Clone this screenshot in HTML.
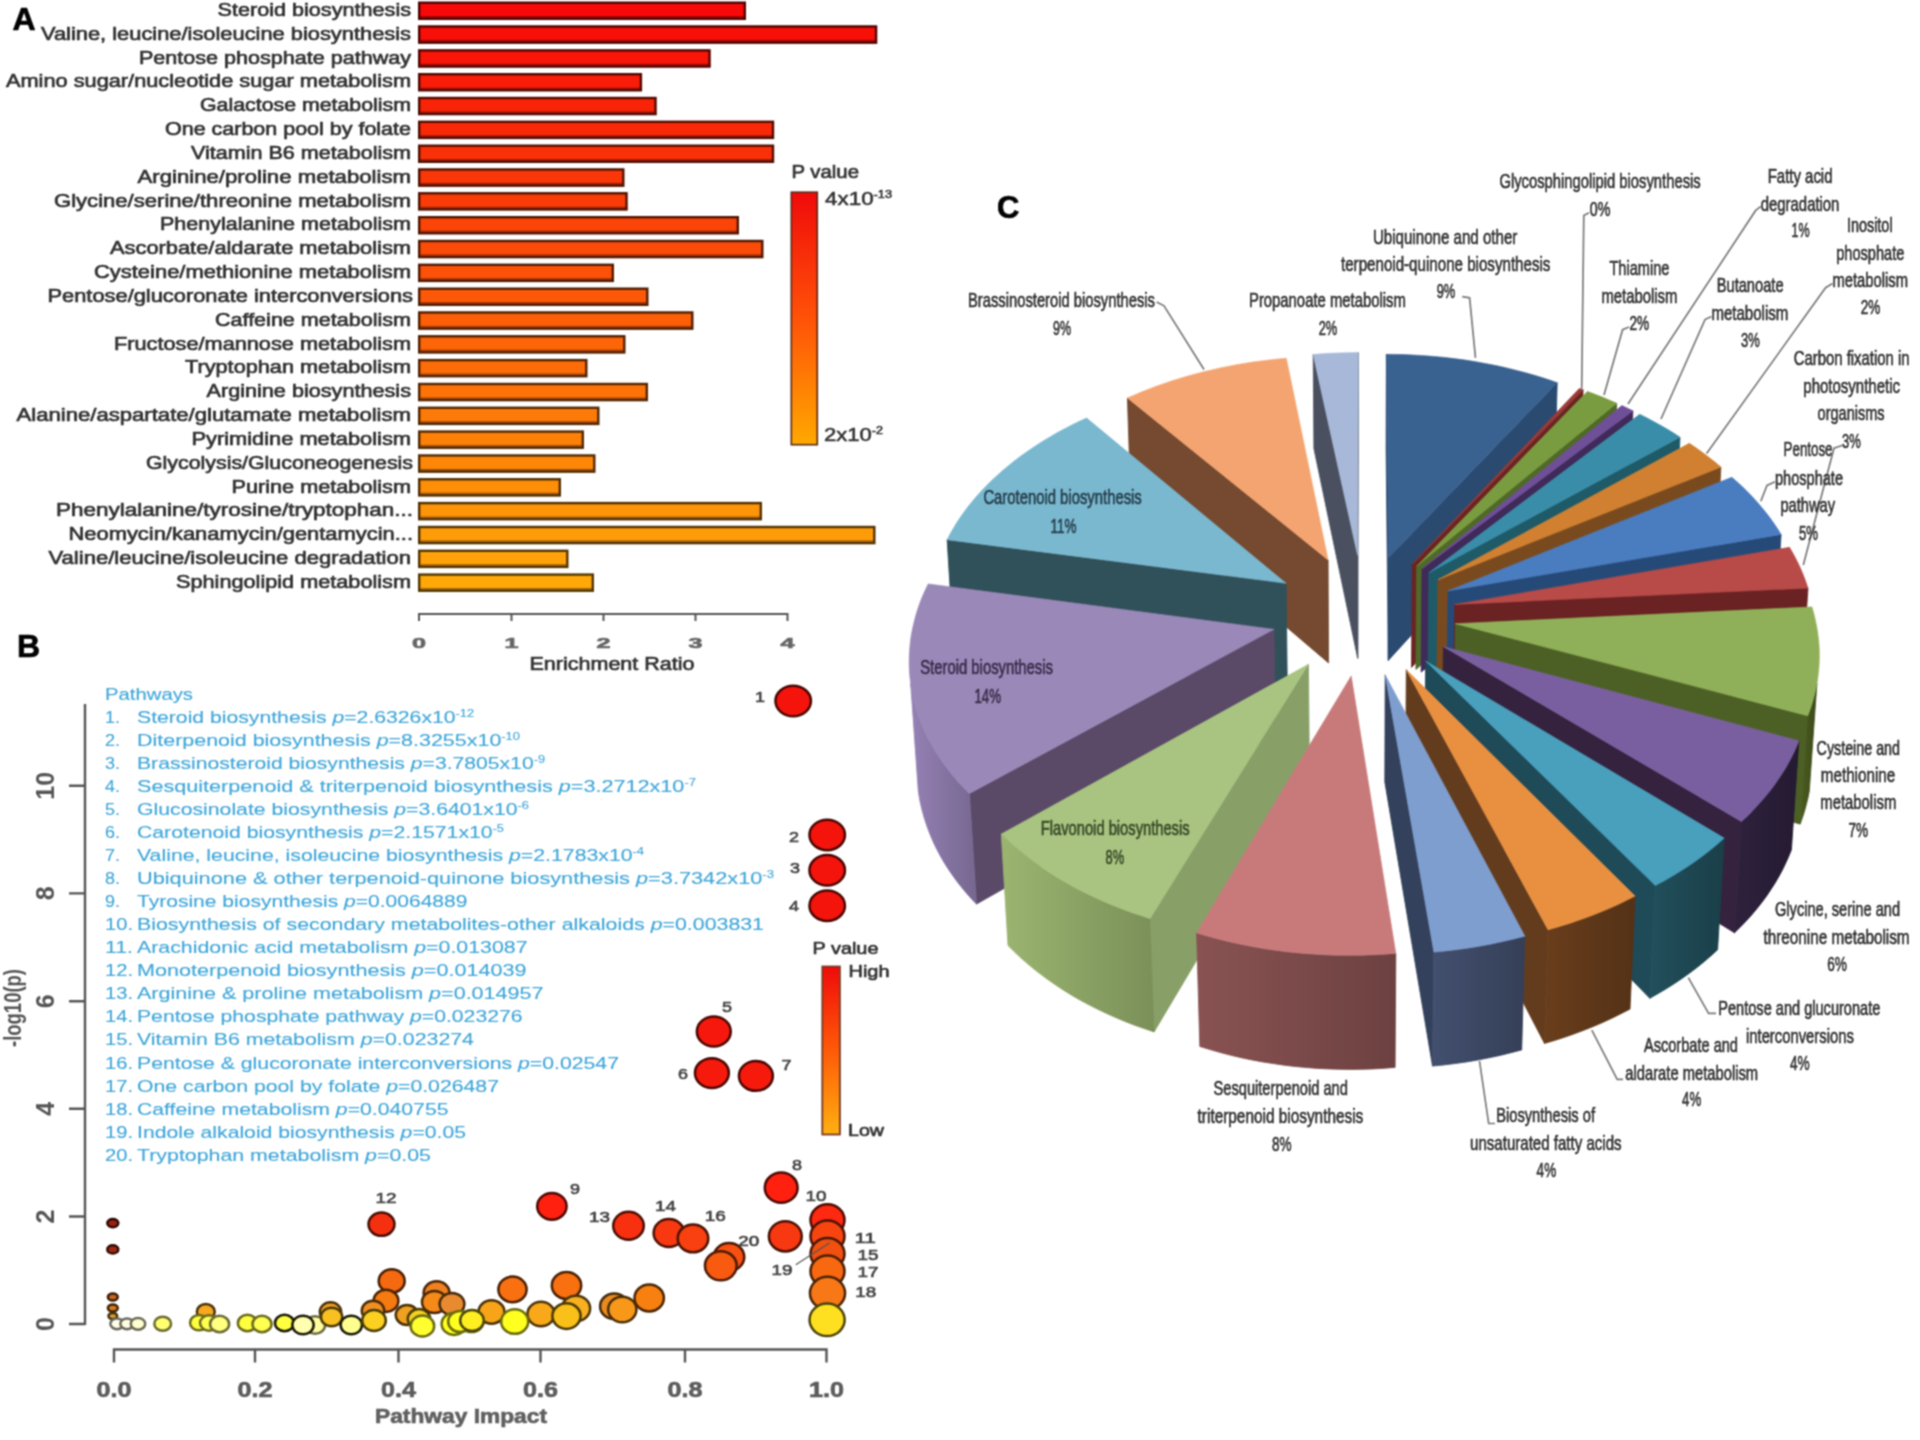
<!DOCTYPE html>
<html lang="en"><head><meta charset="utf-8"><title>Pathway enrichment figure</title>
<style>html,body{margin:0;padding:0;background:#fff}svg{display:block}text{font-family:"Liberation Sans",Arial,sans-serif}</style>
</head><body>
<svg width="1920" height="1440" viewBox="0 0 1920 1440">
<defs><filter id="soft" filterUnits="userSpaceOnUse" x="0" y="0" width="1920" height="1440" color-interpolation-filters="sRGB"><feConvolveMatrix order="3" kernelMatrix="1 2 1 2 4 2 1 2 1" divisor="16" edgeMode="duplicate" preserveAlpha="false"/></filter></defs>
<rect width="1920" height="1440" fill="#ffffff"/>
<g filter="url(#soft)">
<rect width="1920" height="1440" fill="#ffffff"/>
<rect x="418.5" y="2.0" width="327.0" height="17.5" fill="#f80808"/>
<rect x="418.5" y="16.0" width="327.0" height="3.5" fill="#a80505"/>
<rect x="419.2" y="2.7" width="325.6" height="16.1" fill="none" stroke="#510202" stroke-width="2.4"/>
<text x="411.0" y="15.9" font-size="17.6" fill="#333333" stroke="#333333" stroke-width="0.65" text-anchor="end" textLength="193.5" lengthAdjust="spacingAndGlyphs" >Steroid biosynthesis</text>
<rect x="418.5" y="25.8" width="458.3" height="17.5" fill="#f80f08"/>
<rect x="418.5" y="39.8" width="458.3" height="3.5" fill="#a80a05"/>
<rect x="419.2" y="26.5" width="456.9" height="16.1" fill="none" stroke="#510402" stroke-width="2.4"/>
<text x="411.0" y="39.7" font-size="17.6" fill="#333333" stroke="#333333" stroke-width="0.65" text-anchor="end" textLength="370.0" lengthAdjust="spacingAndGlyphs" >Valine, leucine/isoleucine biosynthesis</text>
<rect x="418.5" y="49.7" width="291.7" height="17.5" fill="#f91508"/>
<rect x="418.5" y="63.7" width="291.7" height="3.5" fill="#a90e05"/>
<rect x="419.2" y="50.4" width="290.3" height="16.1" fill="none" stroke="#520602" stroke-width="2.4"/>
<text x="411.0" y="63.6" font-size="17.6" fill="#333333" stroke="#333333" stroke-width="0.65" text-anchor="end" textLength="272.0" lengthAdjust="spacingAndGlyphs" >Pentose phosphate pathway</text>
<rect x="418.5" y="73.5" width="223.1" height="17.5" fill="#f91c08"/>
<rect x="418.5" y="87.5" width="223.1" height="3.5" fill="#a91305"/>
<rect x="419.2" y="74.2" width="221.7" height="16.1" fill="none" stroke="#520902" stroke-width="2.4"/>
<text x="411.0" y="87.4" font-size="17.6" fill="#333333" stroke="#333333" stroke-width="0.65" text-anchor="end" textLength="405.0" lengthAdjust="spacingAndGlyphs" >Amino sugar/nucleotide sugar metabolism</text>
<rect x="418.5" y="97.3" width="237.7" height="17.5" fill="#f92308"/>
<rect x="418.5" y="111.3" width="237.7" height="3.5" fill="#a91705"/>
<rect x="419.2" y="98.0" width="236.3" height="16.1" fill="none" stroke="#520b02" stroke-width="2.4"/>
<text x="411.0" y="111.2" font-size="17.6" fill="#333333" stroke="#333333" stroke-width="0.65" text-anchor="end" textLength="211.0" lengthAdjust="spacingAndGlyphs" >Galactose metabolism</text>
<rect x="418.5" y="121.1" width="355.2" height="17.5" fill="#f92908"/>
<rect x="418.5" y="135.1" width="355.2" height="3.5" fill="#a91b05"/>
<rect x="419.2" y="121.8" width="353.8" height="16.1" fill="none" stroke="#520d02" stroke-width="2.4"/>
<text x="411.0" y="135.0" font-size="17.6" fill="#333333" stroke="#333333" stroke-width="0.65" text-anchor="end" textLength="246.0" lengthAdjust="spacingAndGlyphs" >One carbon pool by folate</text>
<rect x="418.5" y="145.0" width="355.2" height="17.5" fill="#fa3008"/>
<rect x="418.5" y="159.0" width="355.2" height="3.5" fill="#aa2005"/>
<rect x="419.2" y="145.7" width="353.8" height="16.1" fill="none" stroke="#520f02" stroke-width="2.4"/>
<text x="411.0" y="158.9" font-size="17.6" fill="#333333" stroke="#333333" stroke-width="0.65" text-anchor="end" textLength="220.0" lengthAdjust="spacingAndGlyphs" >Vitamin B6 metabolism</text>
<rect x="418.5" y="168.8" width="205.5" height="17.5" fill="#fa3708"/>
<rect x="418.5" y="182.8" width="205.5" height="3.5" fill="#aa2505"/>
<rect x="419.2" y="169.5" width="204.1" height="16.1" fill="none" stroke="#521202" stroke-width="2.4"/>
<text x="411.0" y="182.7" font-size="17.6" fill="#333333" stroke="#333333" stroke-width="0.65" text-anchor="end" textLength="273.5" lengthAdjust="spacingAndGlyphs" >Arginine/proline metabolism</text>
<rect x="418.5" y="192.6" width="208.7" height="17.5" fill="#fa3d08"/>
<rect x="418.5" y="206.6" width="208.7" height="3.5" fill="#aa2905"/>
<rect x="419.2" y="193.3" width="207.3" height="16.1" fill="none" stroke="#521402" stroke-width="2.4"/>
<text x="411.0" y="206.5" font-size="17.6" fill="#333333" stroke="#333333" stroke-width="0.65" text-anchor="end" textLength="357.0" lengthAdjust="spacingAndGlyphs" >Glycine/serine/threonine metabolism</text>
<rect x="418.5" y="216.5" width="320.0" height="17.5" fill="#fb4408"/>
<rect x="418.5" y="230.5" width="320.0" height="3.5" fill="#aa2e05"/>
<rect x="419.2" y="217.2" width="318.6" height="16.1" fill="none" stroke="#521602" stroke-width="2.4"/>
<text x="411.0" y="230.4" font-size="17.6" fill="#333333" stroke="#333333" stroke-width="0.65" text-anchor="end" textLength="251.0" lengthAdjust="spacingAndGlyphs" >Phenylalanine metabolism</text>
<rect x="418.5" y="240.3" width="344.5" height="17.5" fill="#fb4b08"/>
<rect x="418.5" y="254.3" width="344.5" height="3.5" fill="#aa3305"/>
<rect x="419.2" y="241.0" width="343.1" height="16.1" fill="none" stroke="#521802" stroke-width="2.4"/>
<text x="411.0" y="254.2" font-size="17.6" fill="#333333" stroke="#333333" stroke-width="0.65" text-anchor="end" textLength="301.0" lengthAdjust="spacingAndGlyphs" >Ascorbate/aldarate metabolism</text>
<rect x="418.5" y="264.1" width="195.0" height="17.5" fill="#fb5108"/>
<rect x="418.5" y="278.1" width="195.0" height="3.5" fill="#aa3705"/>
<rect x="419.2" y="264.8" width="193.6" height="16.1" fill="none" stroke="#521a02" stroke-width="2.4"/>
<text x="411.0" y="278.0" font-size="17.6" fill="#333333" stroke="#333333" stroke-width="0.65" text-anchor="end" textLength="317.0" lengthAdjust="spacingAndGlyphs" >Cysteine/methionine metabolism</text>
<rect x="418.5" y="288.0" width="229.5" height="17.5" fill="#fc5808"/>
<rect x="418.5" y="302.0" width="229.5" height="3.5" fill="#ab3b05"/>
<rect x="419.2" y="288.7" width="228.1" height="16.1" fill="none" stroke="#531d02" stroke-width="2.4"/>
<text x="413.0" y="301.9" font-size="17.6" fill="#333333" stroke="#333333" stroke-width="0.65" text-anchor="end" textLength="365.5" lengthAdjust="spacingAndGlyphs" >Pentose/glucoronate interconversions</text>
<rect x="418.5" y="311.8" width="274.5" height="17.5" fill="#fc5f08"/>
<rect x="418.5" y="325.8" width="274.5" height="3.5" fill="#ab4005"/>
<rect x="419.2" y="312.5" width="273.1" height="16.1" fill="none" stroke="#531f02" stroke-width="2.4"/>
<text x="411.0" y="325.7" font-size="17.6" fill="#333333" stroke="#333333" stroke-width="0.65" text-anchor="end" textLength="196.0" lengthAdjust="spacingAndGlyphs" >Caffeine metabolism</text>
<rect x="418.5" y="335.6" width="206.5" height="17.5" fill="#fc6508"/>
<rect x="418.5" y="349.6" width="206.5" height="3.5" fill="#ab4405"/>
<rect x="419.2" y="336.3" width="205.1" height="16.1" fill="none" stroke="#532102" stroke-width="2.4"/>
<text x="411.0" y="349.5" font-size="17.6" fill="#333333" stroke="#333333" stroke-width="0.65" text-anchor="end" textLength="297.0" lengthAdjust="spacingAndGlyphs" >Fructose/mannose metabolism</text>
<rect x="418.5" y="359.4" width="168.5" height="17.5" fill="#fc6c08"/>
<rect x="418.5" y="373.4" width="168.5" height="3.5" fill="#ab4905"/>
<rect x="419.2" y="360.1" width="167.1" height="16.1" fill="none" stroke="#532302" stroke-width="2.4"/>
<text x="411.0" y="373.3" font-size="17.6" fill="#333333" stroke="#333333" stroke-width="0.65" text-anchor="end" textLength="226.0" lengthAdjust="spacingAndGlyphs" >Tryptophan metabolism</text>
<rect x="418.5" y="383.3" width="229.0" height="17.5" fill="#fd7308"/>
<rect x="418.5" y="397.3" width="229.0" height="3.5" fill="#ac4e05"/>
<rect x="419.2" y="384.0" width="227.6" height="16.1" fill="none" stroke="#532502" stroke-width="2.4"/>
<text x="411.0" y="397.2" font-size="17.6" fill="#333333" stroke="#333333" stroke-width="0.65" text-anchor="end" textLength="204.5" lengthAdjust="spacingAndGlyphs" >Arginine biosynthesis</text>
<rect x="418.5" y="407.1" width="180.5" height="17.5" fill="#fd7908"/>
<rect x="418.5" y="421.1" width="180.5" height="3.5" fill="#ac5205"/>
<rect x="419.2" y="407.8" width="179.1" height="16.1" fill="none" stroke="#532702" stroke-width="2.4"/>
<text x="411.0" y="421.0" font-size="17.6" fill="#333333" stroke="#333333" stroke-width="0.65" text-anchor="end" textLength="394.5" lengthAdjust="spacingAndGlyphs" >Alanine/aspartate/glutamate metabolism</text>
<rect x="418.5" y="430.9" width="165.0" height="17.5" fill="#fd8008"/>
<rect x="418.5" y="444.9" width="165.0" height="3.5" fill="#ac5705"/>
<rect x="419.2" y="431.6" width="163.6" height="16.1" fill="none" stroke="#532a02" stroke-width="2.4"/>
<text x="411.0" y="444.8" font-size="17.6" fill="#333333" stroke="#333333" stroke-width="0.65" text-anchor="end" textLength="219.5" lengthAdjust="spacingAndGlyphs" >Pyrimidine metabolism</text>
<rect x="418.5" y="454.8" width="176.5" height="17.5" fill="#fe8708"/>
<rect x="418.5" y="468.8" width="176.5" height="3.5" fill="#ac5b05"/>
<rect x="419.2" y="455.5" width="175.1" height="16.1" fill="none" stroke="#532c02" stroke-width="2.4"/>
<text x="413.0" y="468.7" font-size="17.6" fill="#333333" stroke="#333333" stroke-width="0.65" text-anchor="end" textLength="267.0" lengthAdjust="spacingAndGlyphs" >Glycolysis/Gluconeogenesis</text>
<rect x="418.5" y="478.6" width="142.0" height="17.5" fill="#fe8d08"/>
<rect x="418.5" y="492.6" width="142.0" height="3.5" fill="#ac5f05"/>
<rect x="419.2" y="479.3" width="140.6" height="16.1" fill="none" stroke="#532e02" stroke-width="2.4"/>
<text x="411.0" y="492.5" font-size="17.6" fill="#333333" stroke="#333333" stroke-width="0.65" text-anchor="end" textLength="179.5" lengthAdjust="spacingAndGlyphs" >Purine metabolism</text>
<rect x="418.5" y="502.4" width="343.0" height="17.5" fill="#fe9408"/>
<rect x="418.5" y="516.4" width="343.0" height="3.5" fill="#ac6405"/>
<rect x="419.2" y="503.1" width="341.6" height="16.1" fill="none" stroke="#533002" stroke-width="2.4"/>
<text x="413.0" y="516.3" font-size="17.6" fill="#333333" stroke="#333333" stroke-width="0.65" text-anchor="end" textLength="357.0" lengthAdjust="spacingAndGlyphs" >Phenylalanine/tyrosine/tryptophan...</text>
<rect x="418.5" y="526.3" width="456.5" height="17.5" fill="#fe9b08"/>
<rect x="418.5" y="540.3" width="456.5" height="3.5" fill="#ac6905"/>
<rect x="419.2" y="527.0" width="455.1" height="16.1" fill="none" stroke="#533302" stroke-width="2.4"/>
<text x="413.0" y="540.2" font-size="17.6" fill="#333333" stroke="#333333" stroke-width="0.65" text-anchor="end" textLength="344.5" lengthAdjust="spacingAndGlyphs" >Neomycin/kanamycin/gentamycin...</text>
<rect x="418.5" y="550.1" width="149.5" height="17.5" fill="#ffa108"/>
<rect x="418.5" y="564.1" width="149.5" height="3.5" fill="#ad6d05"/>
<rect x="419.2" y="550.8" width="148.1" height="16.1" fill="none" stroke="#543502" stroke-width="2.4"/>
<text x="411.0" y="564.0" font-size="17.6" fill="#333333" stroke="#333333" stroke-width="0.65" text-anchor="end" textLength="362.5" lengthAdjust="spacingAndGlyphs" >Valine/leucine/isoleucine degradation</text>
<rect x="418.5" y="573.9" width="175.0" height="17.5" fill="#ffa808"/>
<rect x="418.5" y="587.9" width="175.0" height="3.5" fill="#ad7205"/>
<rect x="419.2" y="574.6" width="173.6" height="16.1" fill="none" stroke="#543702" stroke-width="2.4"/>
<text x="411.0" y="587.8" font-size="17.6" fill="#333333" stroke="#333333" stroke-width="0.65" text-anchor="end" textLength="235.0" lengthAdjust="spacingAndGlyphs" >Sphingolipid metabolism</text>
<path d="M419,621 V614 H787.5 V621 M511.5,614 V621 M603.5,614 V621 M695.5,614 V621" fill="none" stroke="#555" stroke-width="2"/>
<text x="419.0" y="647.5" font-size="14.5" fill="#666" stroke="#666" stroke-width="0.65" text-anchor="middle" textLength="14.0" lengthAdjust="spacingAndGlyphs" font-weight="bold" >0</text>
<text x="511.5" y="647.5" font-size="14.5" fill="#666" stroke="#666" stroke-width="0.65" text-anchor="middle" textLength="14.0" lengthAdjust="spacingAndGlyphs" font-weight="bold" >1</text>
<text x="603.5" y="647.5" font-size="14.5" fill="#666" stroke="#666" stroke-width="0.65" text-anchor="middle" textLength="14.0" lengthAdjust="spacingAndGlyphs" font-weight="bold" >2</text>
<text x="695.5" y="647.5" font-size="14.5" fill="#666" stroke="#666" stroke-width="0.65" text-anchor="middle" textLength="14.0" lengthAdjust="spacingAndGlyphs" font-weight="bold" >3</text>
<text x="787.5" y="647.5" font-size="14.5" fill="#666" stroke="#666" stroke-width="0.65" text-anchor="middle" textLength="14.0" lengthAdjust="spacingAndGlyphs" font-weight="bold" >4</text>
<text x="612.0" y="670.0" font-size="17.6" fill="#333333" stroke="#333333" stroke-width="0.65" text-anchor="middle" textLength="165.0" lengthAdjust="spacingAndGlyphs" >Enrichment Ratio</text>
<linearGradient id="cbA" x1="0" y1="0" x2="0" y2="1"><stop offset="0" stop-color="#f00a0a"/><stop offset="0.5" stop-color="#ff5208"/><stop offset="1" stop-color="#ffa800"/></linearGradient>
<rect x="791.3" y="192.2" width="26" height="252.5" fill="url(#cbA)" stroke="#5a2a18" stroke-width="1.6"/>
<text x="791.5" y="178.0" font-size="17.6" fill="#333333" stroke="#333333" stroke-width="0.65" textLength="67.5" lengthAdjust="spacingAndGlyphs" >P value</text>
<text x="825" y="205" font-size="17.6" fill="#333333" stroke="#333" stroke-width="0.5" textLength="67" lengthAdjust="spacingAndGlyphs">4x10<tspan font-size="10" dy="-7">-13</tspan></text>
<text x="824" y="441" font-size="17.6" fill="#333333" stroke="#333" stroke-width="0.5" textLength="59" lengthAdjust="spacingAndGlyphs">2x10<tspan font-size="10" dy="-7">-2</tspan></text>
<text x="12.5" y="29.5" font-size="32.0" fill="#000" stroke="#000" stroke-width="0.65" font-weight="bold" >A</text>
<text x="17.0" y="657.0" font-size="32.0" fill="#000" stroke="#000" stroke-width="0.65" font-weight="bold" >B</text>
<text x="105.0" y="699.5" font-size="16.6" fill="#3da5d9" stroke="#3da5d9" stroke-width="0.1" textLength="88.0" lengthAdjust="spacingAndGlyphs" >Pathways</text>
<text x="105.0" y="723.0" font-size="16.6" fill="#3da5d9" stroke="#3da5d9" stroke-width="0.1" textLength="15.0" lengthAdjust="spacingAndGlyphs" >1.</text>
<text x="137" y="723.0" font-size="16.6" fill="#3da5d9" stroke="#3da5d9" stroke-width="0.1" textLength="337.0" lengthAdjust="spacingAndGlyphs">Steroid biosynthesis <tspan font-style="italic">p</tspan>=2.6326x10<tspan font-size="10" dy="-6">-12</tspan></text>
<text x="105.0" y="746.0" font-size="16.6" fill="#3da5d9" stroke="#3da5d9" stroke-width="0.1" textLength="15.0" lengthAdjust="spacingAndGlyphs" >2.</text>
<text x="137" y="746.0" font-size="16.6" fill="#3da5d9" stroke="#3da5d9" stroke-width="0.1" textLength="383.0" lengthAdjust="spacingAndGlyphs">Diterpenoid biosynthesis <tspan font-style="italic">p</tspan>=8.3255x10<tspan font-size="10" dy="-6">-10</tspan></text>
<text x="105.0" y="769.1" font-size="16.6" fill="#3da5d9" stroke="#3da5d9" stroke-width="0.1" textLength="15.0" lengthAdjust="spacingAndGlyphs" >3.</text>
<text x="137" y="769.1" font-size="16.6" fill="#3da5d9" stroke="#3da5d9" stroke-width="0.1" textLength="408.0" lengthAdjust="spacingAndGlyphs">Brassinosteroid biosynthesis <tspan font-style="italic">p</tspan>=3.7805x10<tspan font-size="10" dy="-6">-9</tspan></text>
<text x="105.0" y="792.1" font-size="16.6" fill="#3da5d9" stroke="#3da5d9" stroke-width="0.1" textLength="15.0" lengthAdjust="spacingAndGlyphs" >4.</text>
<text x="137" y="792.1" font-size="16.6" fill="#3da5d9" stroke="#3da5d9" stroke-width="0.1" textLength="559.0" lengthAdjust="spacingAndGlyphs">Sesquiterpenoid &amp; triterpenoid biosynthesis <tspan font-style="italic">p</tspan>=3.2712x10<tspan font-size="10" dy="-6">-7</tspan></text>
<text x="105.0" y="815.1" font-size="16.6" fill="#3da5d9" stroke="#3da5d9" stroke-width="0.1" textLength="15.0" lengthAdjust="spacingAndGlyphs" >5.</text>
<text x="137" y="815.1" font-size="16.6" fill="#3da5d9" stroke="#3da5d9" stroke-width="0.1" textLength="392.0" lengthAdjust="spacingAndGlyphs">Glucosinolate biosynthesis <tspan font-style="italic">p</tspan>=3.6401x10<tspan font-size="10" dy="-6">-6</tspan></text>
<text x="105.0" y="838.1" font-size="16.6" fill="#3da5d9" stroke="#3da5d9" stroke-width="0.1" textLength="15.0" lengthAdjust="spacingAndGlyphs" >6.</text>
<text x="137" y="838.1" font-size="16.6" fill="#3da5d9" stroke="#3da5d9" stroke-width="0.1" textLength="367.0" lengthAdjust="spacingAndGlyphs">Carotenoid biosynthesis <tspan font-style="italic">p</tspan>=2.1571x10<tspan font-size="10" dy="-6">-5</tspan></text>
<text x="105.0" y="861.2" font-size="16.6" fill="#3da5d9" stroke="#3da5d9" stroke-width="0.1" textLength="15.0" lengthAdjust="spacingAndGlyphs" >7.</text>
<text x="137" y="861.2" font-size="16.6" fill="#3da5d9" stroke="#3da5d9" stroke-width="0.1" textLength="507.0" lengthAdjust="spacingAndGlyphs">Valine, leucine, isoleucine biosynthesis <tspan font-style="italic">p</tspan>=2.1783x10<tspan font-size="10" dy="-6">-4</tspan></text>
<text x="105.0" y="884.2" font-size="16.6" fill="#3da5d9" stroke="#3da5d9" stroke-width="0.1" textLength="15.0" lengthAdjust="spacingAndGlyphs" >8.</text>
<text x="137" y="884.2" font-size="16.6" fill="#3da5d9" stroke="#3da5d9" stroke-width="0.1" textLength="637.0" lengthAdjust="spacingAndGlyphs">Ubiquinone &amp; other terpenoid-quinone biosynthesis <tspan font-style="italic">p</tspan>=3.7342x10<tspan font-size="10" dy="-6">-3</tspan></text>
<text x="105.0" y="907.2" font-size="16.6" fill="#3da5d9" stroke="#3da5d9" stroke-width="0.1" textLength="15.0" lengthAdjust="spacingAndGlyphs" >9.</text>
<text x="137" y="907.2" font-size="16.6" fill="#3da5d9" stroke="#3da5d9" stroke-width="0.1" textLength="330.5" lengthAdjust="spacingAndGlyphs">Tyrosine biosynthesis <tspan font-style="italic">p</tspan>=0.0064889</text>
<text x="105.0" y="930.3" font-size="16.6" fill="#3da5d9" stroke="#3da5d9" stroke-width="0.1" textLength="28.0" lengthAdjust="spacingAndGlyphs" >10.</text>
<text x="137" y="930.3" font-size="16.6" fill="#3da5d9" stroke="#3da5d9" stroke-width="0.1" textLength="627.0" lengthAdjust="spacingAndGlyphs">Biosynthesis of secondary metabolites-other alkaloids <tspan font-style="italic">p</tspan>=0.003831</text>
<text x="105.0" y="953.3" font-size="16.6" fill="#3da5d9" stroke="#3da5d9" stroke-width="0.1" textLength="28.0" lengthAdjust="spacingAndGlyphs" >11.</text>
<text x="137" y="953.3" font-size="16.6" fill="#3da5d9" stroke="#3da5d9" stroke-width="0.1" textLength="390.5" lengthAdjust="spacingAndGlyphs">Arachidonic acid metabolism <tspan font-style="italic">p</tspan>=0.013087</text>
<text x="105.0" y="976.3" font-size="16.6" fill="#3da5d9" stroke="#3da5d9" stroke-width="0.1" textLength="28.0" lengthAdjust="spacingAndGlyphs" >12.</text>
<text x="137" y="976.3" font-size="16.6" fill="#3da5d9" stroke="#3da5d9" stroke-width="0.1" textLength="389.5" lengthAdjust="spacingAndGlyphs">Monoterpenoid biosynthesis <tspan font-style="italic">p</tspan>=0.014039</text>
<text x="105.0" y="999.4" font-size="16.6" fill="#3da5d9" stroke="#3da5d9" stroke-width="0.1" textLength="28.0" lengthAdjust="spacingAndGlyphs" >13.</text>
<text x="137" y="999.4" font-size="16.6" fill="#3da5d9" stroke="#3da5d9" stroke-width="0.1" textLength="406.5" lengthAdjust="spacingAndGlyphs">Arginine &amp; proline metabolism <tspan font-style="italic">p</tspan>=0.014957</text>
<text x="105.0" y="1022.4" font-size="16.6" fill="#3da5d9" stroke="#3da5d9" stroke-width="0.1" textLength="28.0" lengthAdjust="spacingAndGlyphs" >14.</text>
<text x="137" y="1022.4" font-size="16.6" fill="#3da5d9" stroke="#3da5d9" stroke-width="0.1" textLength="385.5" lengthAdjust="spacingAndGlyphs">Pentose phosphate pathway <tspan font-style="italic">p</tspan>=0.023276</text>
<text x="105.0" y="1045.4" font-size="16.6" fill="#3da5d9" stroke="#3da5d9" stroke-width="0.1" textLength="28.0" lengthAdjust="spacingAndGlyphs" >15.</text>
<text x="137" y="1045.4" font-size="16.6" fill="#3da5d9" stroke="#3da5d9" stroke-width="0.1" textLength="337.0" lengthAdjust="spacingAndGlyphs">Vitamin B6 metabolism <tspan font-style="italic">p</tspan>=0.023274</text>
<text x="105.0" y="1068.5" font-size="16.6" fill="#3da5d9" stroke="#3da5d9" stroke-width="0.1" textLength="28.0" lengthAdjust="spacingAndGlyphs" >16.</text>
<text x="137" y="1068.5" font-size="16.6" fill="#3da5d9" stroke="#3da5d9" stroke-width="0.1" textLength="482.0" lengthAdjust="spacingAndGlyphs">Pentose &amp; glucoronate interconversions <tspan font-style="italic">p</tspan>=0.02547</text>
<text x="105.0" y="1091.5" font-size="16.6" fill="#3da5d9" stroke="#3da5d9" stroke-width="0.1" textLength="28.0" lengthAdjust="spacingAndGlyphs" >17.</text>
<text x="137" y="1091.5" font-size="16.6" fill="#3da5d9" stroke="#3da5d9" stroke-width="0.1" textLength="362.0" lengthAdjust="spacingAndGlyphs">One carbon pool by folate <tspan font-style="italic">p</tspan>=0.026487</text>
<text x="105.0" y="1114.5" font-size="16.6" fill="#3da5d9" stroke="#3da5d9" stroke-width="0.1" textLength="28.0" lengthAdjust="spacingAndGlyphs" >18.</text>
<text x="137" y="1114.5" font-size="16.6" fill="#3da5d9" stroke="#3da5d9" stroke-width="0.1" textLength="311.5" lengthAdjust="spacingAndGlyphs">Caffeine metabolism <tspan font-style="italic">p</tspan>=0.040755</text>
<text x="105.0" y="1137.5" font-size="16.6" fill="#3da5d9" stroke="#3da5d9" stroke-width="0.1" textLength="28.0" lengthAdjust="spacingAndGlyphs" >19.</text>
<text x="137" y="1137.5" font-size="16.6" fill="#3da5d9" stroke="#3da5d9" stroke-width="0.1" textLength="329.0" lengthAdjust="spacingAndGlyphs">Indole alkaloid biosynthesis <tspan font-style="italic">p</tspan>=0.05</text>
<text x="105.0" y="1160.6" font-size="16.6" fill="#3da5d9" stroke="#3da5d9" stroke-width="0.1" textLength="28.0" lengthAdjust="spacingAndGlyphs" >20.</text>
<text x="137" y="1160.6" font-size="16.6" fill="#3da5d9" stroke="#3da5d9" stroke-width="0.1" textLength="294.0" lengthAdjust="spacingAndGlyphs">Tryptophan metabolism <tspan font-style="italic">p</tspan>=0.05</text>
<path d="M85,704 V1325 M69,785.8 H85 M69,893.4 H85 M69,1001.2 H85 M69,1108.8 H85 M69,1216.5 H85 M69,1324 H85" fill="none" stroke="#555" stroke-width="2.4"/>
<text transform="translate(54,785.8) rotate(-90)" text-anchor="middle" font-size="25" font-weight="bold" fill="#555">10</text>
<text transform="translate(54,893.4) rotate(-90)" text-anchor="middle" font-size="25" font-weight="bold" fill="#555">8</text>
<text transform="translate(54,1001.2) rotate(-90)" text-anchor="middle" font-size="25" font-weight="bold" fill="#555">6</text>
<text transform="translate(54,1108.8) rotate(-90)" text-anchor="middle" font-size="25" font-weight="bold" fill="#555">4</text>
<text transform="translate(54,1216.5) rotate(-90)" text-anchor="middle" font-size="25" font-weight="bold" fill="#555">2</text>
<text transform="translate(54,1324.0) rotate(-90)" text-anchor="middle" font-size="25" font-weight="bold" fill="#555">0</text>
<text transform="translate(21,1008) rotate(-90)" text-anchor="middle" font-size="23" font-weight="bold" fill="#555" textLength="78" lengthAdjust="spacingAndGlyphs">-log10(p)</text>
<path d="M114,1362.5 V1349.5 H826.5 V1362.5 M255,1349.5 V1362.5 M398.5,1349.5 V1362.5 M540.5,1349.5 V1362.5 M685,1349.5 V1362.5" fill="none" stroke="#555" stroke-width="2.4"/>
<text x="114.0" y="1397.0" font-size="22.0" fill="#5c5c5c" stroke="#5c5c5c" stroke-width="0.65" text-anchor="middle" textLength="35.0" lengthAdjust="spacingAndGlyphs" font-weight="bold" >0.0</text>
<text x="255.0" y="1397.0" font-size="22.0" fill="#5c5c5c" stroke="#5c5c5c" stroke-width="0.65" text-anchor="middle" textLength="35.0" lengthAdjust="spacingAndGlyphs" font-weight="bold" >0.2</text>
<text x="398.5" y="1397.0" font-size="22.0" fill="#5c5c5c" stroke="#5c5c5c" stroke-width="0.65" text-anchor="middle" textLength="35.0" lengthAdjust="spacingAndGlyphs" font-weight="bold" >0.4</text>
<text x="540.5" y="1397.0" font-size="22.0" fill="#5c5c5c" stroke="#5c5c5c" stroke-width="0.65" text-anchor="middle" textLength="35.0" lengthAdjust="spacingAndGlyphs" font-weight="bold" >0.6</text>
<text x="685.0" y="1397.0" font-size="22.0" fill="#5c5c5c" stroke="#5c5c5c" stroke-width="0.65" text-anchor="middle" textLength="35.0" lengthAdjust="spacingAndGlyphs" font-weight="bold" >0.8</text>
<text x="826.5" y="1397.0" font-size="22.0" fill="#5c5c5c" stroke="#5c5c5c" stroke-width="0.65" text-anchor="middle" textLength="35.0" lengthAdjust="spacingAndGlyphs" font-weight="bold" >1.0</text>
<text x="461.0" y="1423.0" font-size="21.0" fill="#606060" stroke="#606060" stroke-width="0.65" text-anchor="middle" textLength="172.0" lengthAdjust="spacingAndGlyphs" font-weight="bold" >Pathway Impact</text>
<linearGradient id="cbB" x1="0" y1="0" x2="0" y2="1"><stop offset="0" stop-color="#f00a0a"/><stop offset="0.5" stop-color="#ff5a08"/><stop offset="1" stop-color="#ffb010"/></linearGradient>
<rect x="822.3" y="966.5" width="17.6" height="168" fill="url(#cbB)" stroke="#7a3a20" stroke-width="1.8"/>
<text x="812.5" y="954.0" font-size="16.6" fill="#333333" stroke="#333333" stroke-width="0.65" textLength="66.0" lengthAdjust="spacingAndGlyphs" >P value</text>
<text x="848.5" y="977.0" font-size="16.6" fill="#333333" stroke="#333333" stroke-width="0.65" textLength="41.0" lengthAdjust="spacingAndGlyphs" >High</text>
<text x="848.0" y="1136.0" font-size="16.6" fill="#333333" stroke="#333333" stroke-width="0.65" textLength="36.0" lengthAdjust="spacingAndGlyphs" >Low</text>
<ellipse cx="112.8" cy="1223.1" rx="5.50" ry="4.20" fill="#9a2010" stroke="#2e0904" stroke-width="2.5"/>
<ellipse cx="112.8" cy="1249.4" rx="5.50" ry="4.20" fill="#a02810" stroke="#300c04" stroke-width="2.5"/>
<ellipse cx="112.8" cy="1297.0" rx="4.92" ry="3.62" fill="#c8641e" stroke="#3c1e09" stroke-width="2.5"/>
<ellipse cx="112.8" cy="1308.0" rx="4.92" ry="3.62" fill="#d87a20" stroke="#402409" stroke-width="2.5"/>
<ellipse cx="112.8" cy="1316.0" rx="4.35" ry="3.05" fill="#e0a030" stroke="#43300e" stroke-width="2.5"/>
<ellipse cx="117.0" cy="1323.8" rx="6.65" ry="5.35" fill="#fffde8" stroke="#6b6a61" stroke-width="2.5"/>
<ellipse cx="127.0" cy="1323.8" rx="6.65" ry="5.35" fill="#fffde0" stroke="#6b6a5e" stroke-width="2.5"/>
<ellipse cx="138.0" cy="1323.8" rx="7.22" ry="5.92" fill="#ffffd0" stroke="#6b6b57" stroke-width="2.5"/>
<ellipse cx="162.7" cy="1323.8" rx="8.38" ry="7.07" fill="#ffff70" stroke="#6b6b2f" stroke-width="2.5"/>
<ellipse cx="205.8" cy="1311.7" rx="8.95" ry="7.65" fill="#f5a820" stroke="#493209" stroke-width="2.5"/>
<ellipse cx="199.0" cy="1322.7" rx="8.95" ry="7.65" fill="#ffff40" stroke="#6b6b1a" stroke-width="2.5"/>
<ellipse cx="209.0" cy="1323.0" rx="8.95" ry="7.65" fill="#ffff50" stroke="#6b6b21" stroke-width="2.5"/>
<ellipse cx="219.6" cy="1324.0" rx="9.52" ry="8.22" fill="#ffff80" stroke="#6b6b35" stroke-width="2.5"/>
<ellipse cx="247.4" cy="1323.0" rx="9.52" ry="8.22" fill="#ffff40" stroke="#6b6b1a" stroke-width="2.5"/>
<ellipse cx="262.0" cy="1324.0" rx="9.52" ry="8.22" fill="#ffff50" stroke="#6b6b21" stroke-width="2.5"/>
<ellipse cx="284.5" cy="1323.0" rx="9.52" ry="8.22" fill="#ffff40" stroke="#1a1a08" stroke-width="2.5"/>
<ellipse cx="315.0" cy="1325.0" rx="10.10" ry="8.80" fill="#ffffa0" stroke="#6b6b43" stroke-width="2.5"/>
<ellipse cx="303.0" cy="1325.0" rx="10.67" ry="9.37" fill="#ffffb0" stroke="#1a1a08" stroke-width="2.5"/>
<ellipse cx="330.5" cy="1311.7" rx="10.67" ry="9.37" fill="#f0a020" stroke="#483009" stroke-width="2.5"/>
<ellipse cx="331.6" cy="1317.0" rx="10.67" ry="9.37" fill="#f8c020" stroke="#4a3909" stroke-width="2.5"/>
<ellipse cx="351.3" cy="1325.0" rx="10.67" ry="9.37" fill="#ffff90" stroke="#1a1a08" stroke-width="2.5"/>
<ellipse cx="391.7" cy="1281.0" rx="12.97" ry="11.67" fill="#f56a10" stroke="#491f04" stroke-width="2.5"/>
<ellipse cx="386.0" cy="1300.8" rx="12.40" ry="11.10" fill="#f57a10" stroke="#492404" stroke-width="2.5"/>
<ellipse cx="373.0" cy="1310.6" rx="11.25" ry="9.95" fill="#f09020" stroke="#482b09" stroke-width="2.5"/>
<ellipse cx="374.0" cy="1320.5" rx="11.82" ry="10.52" fill="#fcd020" stroke="#4b3e09" stroke-width="2.5"/>
<ellipse cx="407.0" cy="1315.0" rx="11.25" ry="9.95" fill="#f0a020" stroke="#483009" stroke-width="2.5"/>
<ellipse cx="419.0" cy="1319.0" rx="11.25" ry="9.95" fill="#f5d020" stroke="#493e09" stroke-width="2.5"/>
<ellipse cx="436.6" cy="1293.0" rx="12.97" ry="11.67" fill="#f08020" stroke="#482609" stroke-width="2.5"/>
<ellipse cx="434.4" cy="1302.0" rx="12.40" ry="11.10" fill="#f58a18" stroke="#492907" stroke-width="2.5"/>
<ellipse cx="452.0" cy="1304.0" rx="12.40" ry="11.10" fill="#e88a30" stroke="#45290e" stroke-width="2.5"/>
<ellipse cx="422.4" cy="1326.0" rx="11.82" ry="10.52" fill="#ffff30" stroke="#6b6b14" stroke-width="2.5"/>
<ellipse cx="471.6" cy="1321.6" rx="11.82" ry="10.52" fill="#fff030" stroke="#6b6414" stroke-width="2.5"/>
<ellipse cx="454.0" cy="1323.8" rx="12.40" ry="11.10" fill="#ffff20" stroke="#6b6b0d" stroke-width="2.5"/>
<ellipse cx="491.5" cy="1312.0" rx="12.97" ry="11.67" fill="#f8a418" stroke="#4a3107" stroke-width="2.5"/>
<ellipse cx="460.0" cy="1321.6" rx="11.82" ry="10.52" fill="#ffff20" stroke="#6b6b0d" stroke-width="2.5"/>
<ellipse cx="472.0" cy="1320.5" rx="11.82" ry="10.52" fill="#ffee20" stroke="#4c4709" stroke-width="2.5"/>
<ellipse cx="512.5" cy="1289.4" rx="14.12" ry="12.82" fill="#f87010" stroke="#4a2104" stroke-width="2.5"/>
<ellipse cx="541.0" cy="1314.0" rx="13.55" ry="12.25" fill="#f8a818" stroke="#4a3207" stroke-width="2.5"/>
<ellipse cx="514.7" cy="1321.6" rx="13.55" ry="12.25" fill="#ffff20" stroke="#6b6b0d" stroke-width="2.5"/>
<ellipse cx="566.5" cy="1285.5" rx="14.70" ry="13.40" fill="#f87010" stroke="#4a2104" stroke-width="2.5"/>
<ellipse cx="576.0" cy="1308.5" rx="14.12" ry="12.82" fill="#f8b020" stroke="#4a3409" stroke-width="2.5"/>
<ellipse cx="566.5" cy="1316.1" rx="14.12" ry="12.82" fill="#f8c018" stroke="#4a3907" stroke-width="2.5"/>
<ellipse cx="614.2" cy="1306.3" rx="14.12" ry="12.82" fill="#e88a20" stroke="#452909" stroke-width="2.5"/>
<ellipse cx="622.3" cy="1309.5" rx="14.12" ry="12.82" fill="#f89818" stroke="#4a2d07" stroke-width="2.5"/>
<ellipse cx="649.2" cy="1298.0" rx="14.70" ry="13.40" fill="#f88010" stroke="#4a2604" stroke-width="2.5"/>
<ellipse cx="381.5" cy="1224.2" rx="12.97" ry="11.67" fill="#f53010" stroke="#490e04" stroke-width="2.5"/>
<ellipse cx="551.9" cy="1206.3" rx="14.70" ry="13.40" fill="#ff2010" stroke="#4c0904" stroke-width="2.5"/>
<ellipse cx="628.5" cy="1225.8" rx="15.27" ry="13.97" fill="#f83010" stroke="#4a0e04" stroke-width="2.5"/>
<ellipse cx="668.9" cy="1233.0" rx="15.27" ry="13.97" fill="#f83810" stroke="#4a1004" stroke-width="2.5"/>
<ellipse cx="693.0" cy="1238.4" rx="15.27" ry="13.97" fill="#f84010" stroke="#4a1304" stroke-width="2.5"/>
<ellipse cx="729.0" cy="1257.0" rx="15.27" ry="13.97" fill="#f85010" stroke="#4a1804" stroke-width="2.5"/>
<ellipse cx="720.8" cy="1265.8" rx="15.85" ry="14.55" fill="#f85a10" stroke="#4a1b04" stroke-width="2.5"/>
<ellipse cx="781.2" cy="1187.7" rx="16.42" ry="15.12" fill="#ff2010" stroke="#4c0904" stroke-width="2.5"/>
<ellipse cx="785.3" cy="1236.3" rx="16.42" ry="15.12" fill="#f83810" stroke="#4a1004" stroke-width="2.5"/>
<ellipse cx="827.5" cy="1220.0" rx="17.00" ry="15.70" fill="#ff2810" stroke="#4c0c04" stroke-width="2.5"/>
<ellipse cx="827.5" cy="1236.3" rx="17.00" ry="15.70" fill="#f84510" stroke="#4a1404" stroke-width="2.5"/>
<ellipse cx="827.5" cy="1253.8" rx="17.00" ry="15.70" fill="#f05010" stroke="#481804" stroke-width="2.5"/>
<ellipse cx="827.5" cy="1271.3" rx="17.00" ry="15.70" fill="#f86810" stroke="#4a1f04" stroke-width="2.5"/>
<ellipse cx="827.5" cy="1293.1" rx="17.57" ry="16.27" fill="#f87818" stroke="#4a2407" stroke-width="2.5"/>
<ellipse cx="827.1" cy="1319.8" rx="17.57" ry="16.27" fill="#ffe020" stroke="#4c4309" stroke-width="2.5"/>
<ellipse cx="793.2" cy="701.1" rx="17.75" ry="15.25" fill="#f4140c" stroke="#490603" stroke-width="2.5"/>
<ellipse cx="827.2" cy="834.9" rx="17.75" ry="15.25" fill="#f4140c" stroke="#490603" stroke-width="2.5"/>
<ellipse cx="827.2" cy="870.3" rx="17.75" ry="15.25" fill="#f4140c" stroke="#490603" stroke-width="2.5"/>
<ellipse cx="827.2" cy="905.7" rx="17.75" ry="15.25" fill="#f4140c" stroke="#490603" stroke-width="2.5"/>
<ellipse cx="713.8" cy="1031.5" rx="16.95" ry="14.95" fill="#f6180c" stroke="#490703" stroke-width="2.5"/>
<ellipse cx="711.9" cy="1073.1" rx="16.95" ry="14.95" fill="#f61a0c" stroke="#490703" stroke-width="2.5"/>
<ellipse cx="755.9" cy="1075.9" rx="16.95" ry="14.95" fill="#f61a0c" stroke="#490703" stroke-width="2.5"/>
<text x="760.0" y="701.5" font-size="15.5" fill="#444444" stroke="#444444" stroke-width="0.65" text-anchor="middle" textLength="10.0" lengthAdjust="spacingAndGlyphs" >1</text>
<text x="794.0" y="841.5" font-size="15.5" fill="#444444" stroke="#444444" stroke-width="0.65" text-anchor="middle" textLength="10.0" lengthAdjust="spacingAndGlyphs" >2</text>
<text x="795.0" y="873.0" font-size="15.5" fill="#444444" stroke="#444444" stroke-width="0.65" text-anchor="middle" textLength="10.0" lengthAdjust="spacingAndGlyphs" >3</text>
<text x="794.0" y="910.5" font-size="15.5" fill="#444444" stroke="#444444" stroke-width="0.65" text-anchor="middle" textLength="10.0" lengthAdjust="spacingAndGlyphs" >4</text>
<text x="727.1" y="1012.4" font-size="15.5" fill="#444444" stroke="#444444" stroke-width="0.65" text-anchor="middle" textLength="10.0" lengthAdjust="spacingAndGlyphs" >5</text>
<text x="682.9" y="1079.2" font-size="15.5" fill="#444444" stroke="#444444" stroke-width="0.65" text-anchor="middle" textLength="10.0" lengthAdjust="spacingAndGlyphs" >6</text>
<text x="786.5" y="1069.9" font-size="15.5" fill="#444444" stroke="#444444" stroke-width="0.65" text-anchor="middle" textLength="10.0" lengthAdjust="spacingAndGlyphs" >7</text>
<text x="796.9" y="1169.5" font-size="15.5" fill="#444444" stroke="#444444" stroke-width="0.65" text-anchor="middle" textLength="10.0" lengthAdjust="spacingAndGlyphs" >8</text>
<text x="574.9" y="1194.0" font-size="15.5" fill="#444444" stroke="#444444" stroke-width="0.65" text-anchor="middle" textLength="10.0" lengthAdjust="spacingAndGlyphs" >9</text>
<text x="816.0" y="1201.3" font-size="15.5" fill="#444444" stroke="#444444" stroke-width="0.65" text-anchor="middle" textLength="21.0" lengthAdjust="spacingAndGlyphs" >10</text>
<text x="865.2" y="1242.5" font-size="15.5" fill="#444444" stroke="#444444" stroke-width="0.65" text-anchor="middle" textLength="21.0" lengthAdjust="spacingAndGlyphs" >11</text>
<text x="386.0" y="1202.5" font-size="15.5" fill="#444444" stroke="#444444" stroke-width="0.65" text-anchor="middle" textLength="21.0" lengthAdjust="spacingAndGlyphs" >12</text>
<text x="599.4" y="1222.0" font-size="15.5" fill="#444444" stroke="#444444" stroke-width="0.65" text-anchor="middle" textLength="21.0" lengthAdjust="spacingAndGlyphs" >13</text>
<text x="665.6" y="1211.0" font-size="15.5" fill="#444444" stroke="#444444" stroke-width="0.65" text-anchor="middle" textLength="21.0" lengthAdjust="spacingAndGlyphs" >14</text>
<text x="868.0" y="1259.7" font-size="15.5" fill="#444444" stroke="#444444" stroke-width="0.65" text-anchor="middle" textLength="21.0" lengthAdjust="spacingAndGlyphs" >15</text>
<text x="715.3" y="1221.4" font-size="15.5" fill="#444444" stroke="#444444" stroke-width="0.65" text-anchor="middle" textLength="21.0" lengthAdjust="spacingAndGlyphs" >16</text>
<text x="868.0" y="1276.8" font-size="15.5" fill="#444444" stroke="#444444" stroke-width="0.65" text-anchor="middle" textLength="21.0" lengthAdjust="spacingAndGlyphs" >17</text>
<text x="865.8" y="1296.5" font-size="15.5" fill="#444444" stroke="#444444" stroke-width="0.65" text-anchor="middle" textLength="21.0" lengthAdjust="spacingAndGlyphs" >18</text>
<text x="782.0" y="1275.0" font-size="15.5" fill="#444444" stroke="#444444" stroke-width="0.65" text-anchor="middle" textLength="21.0" lengthAdjust="spacingAndGlyphs" >19</text>
<text x="748.8" y="1245.5" font-size="15.5" fill="#444444" stroke="#444444" stroke-width="0.65" text-anchor="middle" textLength="21.0" lengthAdjust="spacingAndGlyphs" >20</text>
<path d="M795.8,1264.7 L829.7,1242.8" stroke="#555" stroke-width="1.2"/>
<g><polygon points="1357.6,555.4 1313.2,354.5 1313.9,448.5 1357.7,658.3" fill="#4a5060" stroke="#4a5060" stroke-width="0.8" stroke-linejoin="round"/><polygon points="1357.6,555.4 1358.2,352.6 1358.2,446.6 1357.7,658.3" fill="#4a5060" stroke="#4a5060" stroke-width="0.8" stroke-linejoin="round"/><polygon points="1357.6,555.4 1313.2,354.5 1322.2,353.8 1331.1,353.3 1340.1,352.9 1349.2,352.7 1358.2,352.6" fill="#a8b8d8" stroke="#a8b8d8" stroke-width="0.6" stroke-linejoin="round"/></g>
<g><polygon points="1388.7,557.5 1386.4,354.3 1386.1,448.4 1388.3,660.4" fill="#2a4a70" stroke="#2a4a70" stroke-width="0.8" stroke-linejoin="round"/><polygon points="1388.7,557.5 1557.2,382.7 1554.6,478.1 1388.3,660.4" fill="#2a4a70" stroke="#2a4a70" stroke-width="0.8" stroke-linejoin="round"/><polygon points="1388.7,557.5 1386.4,354.3 1394.8,354.4 1403.3,354.6 1411.7,354.9 1420.1,355.4 1428.5,356.0 1436.9,356.7 1445.2,357.5 1453.6,358.5 1461.9,359.6 1470.1,360.8 1478.3,362.2 1486.5,363.7 1494.6,365.3 1502.7,367.0 1510.7,368.9 1518.6,370.9 1526.5,373.0 1534.3,375.2 1542.0,377.6 1549.7,380.1 1557.2,382.7" fill="#3a6291" stroke="#3a6291" stroke-width="0.6" stroke-linejoin="round"/></g>
<g><polygon points="1328.1,560.0 1127.4,398.0 1130.6,494.2 1328.6,663.0" fill="#754a30" stroke="#754a30" stroke-width="0.8" stroke-linejoin="round"/><polygon points="1328.1,560.0 1127.4,398.0 1134.6,394.9 1141.9,391.8 1149.3,388.9 1156.8,386.1 1164.4,383.4 1172.1,380.8 1179.9,378.4 1187.7,376.1 1195.6,373.9 1203.6,371.8 1211.7,369.9 1219.8,368.1 1227.9,366.4 1236.2,364.8 1244.4,363.4 1252.7,362.1 1261.1,361.0 1269.5,359.9 1277.9,359.0 1286.3,358.3" fill="#f4a470" stroke="#f4a470" stroke-width="0.6" stroke-linejoin="round"/></g>
<g><polygon points="1412.2,564.2 1583.1,389.8 1580.2,485.5 1411.5,667.4" fill="#6a2422" stroke="#6a2422" stroke-width="0.8" stroke-linejoin="round"/><polygon points="1412.2,564.2 1579.3,388.4 1581.2,389.1 1583.1,389.8" fill="#9a3a38" stroke="#9a3a38" stroke-width="0.6" stroke-linejoin="round"/></g>
<g><polygon points="1416.7,566.2 1616.7,403.3 1613.3,499.7 1415.9,669.4" fill="#4f6a28" stroke="#4f6a28" stroke-width="0.8" stroke-linejoin="round"/><polygon points="1416.7,566.2 1587.4,391.4 1594.9,394.2 1602.3,397.1 1609.6,400.2 1616.7,403.3" fill="#7a9c40" stroke="#7a9c40" stroke-width="0.6" stroke-linejoin="round"/></g>
<g><polygon points="1422.0,568.8 1632.9,410.8 1629.2,507.5 1421.1,672.1" fill="#3f2a5a" stroke="#3f2a5a" stroke-width="0.8" stroke-linejoin="round"/><polygon points="1422.0,568.8 1621.9,405.6 1627.5,408.2 1632.9,410.8" fill="#6f4f98" stroke="#6f4f98" stroke-width="0.6" stroke-linejoin="round"/></g>
<g><polygon points="1428.9,572.8 1680.0,437.2 1675.6,535.2 1427.9,676.3" fill="#1f5a68" stroke="#1f5a68" stroke-width="0.8" stroke-linejoin="round"/><polygon points="1428.9,572.8 1639.7,414.3 1646.7,417.8 1653.6,421.5 1660.4,425.2 1667.1,429.1 1673.7,433.1 1680.0,437.2" fill="#3a8da8" stroke="#3a8da8" stroke-width="0.6" stroke-linejoin="round"/></g>
<g><polygon points="1438.0,579.7 1720.9,467.1 1715.8,566.3 1436.8,683.5" fill="#7a4a1f" stroke="#7a4a1f" stroke-width="0.8" stroke-linejoin="round"/><polygon points="1438.0,579.7 1689.3,443.3 1696.0,447.8 1702.5,452.4 1708.8,457.2 1715.0,462.1 1720.9,467.1" fill="#d08030" stroke="#d08030" stroke-width="0.6" stroke-linejoin="round"/></g>
<g><polygon points="1286.1,583.3 947.1,539.7 953.4,641.9 1287.3,687.2" fill="#30505a" stroke="#30505a" stroke-width="0.8" stroke-linejoin="round"/><polygon points="1286.1,583.3 947.1,539.7 950.1,533.9 953.4,528.2 956.8,522.6 960.5,517.0 964.4,511.5 968.5,506.1 972.8,500.8 977.3,495.5 982.0,490.3 986.9,485.3 991.9,480.3 997.2,475.4 1002.6,470.6 1008.2,465.9 1013.9,461.3 1019.8,456.8 1025.9,452.4 1032.1,448.2 1038.4,444.0 1044.9,439.9 1051.6,436.0 1058.3,432.1 1065.2,428.4 1072.2,424.8 1079.4,421.3 1086.6,418.0" fill="#7ab8d0" stroke="#7ab8d0" stroke-width="0.6" stroke-linejoin="round"/></g>
<g><polygon points="1448.0,590.9 1781.1,534.4 1774.8,636.4 1446.7,695.1" fill="#264a78" stroke="#264a78" stroke-width="0.8" stroke-linejoin="round"/><polygon points="1448.0,590.9 1731.8,477.2 1737.2,481.9 1742.5,486.8 1747.5,491.8 1752.4,496.8 1757.1,501.9 1761.6,507.2 1765.9,512.5 1770.0,517.8 1773.9,523.3 1777.6,528.8 1781.1,534.4" fill="#4a7cc0" stroke="#4a7cc0" stroke-width="0.6" stroke-linejoin="round"/></g>
<g><polygon points="1454.6,604.5 1808.0,588.1 1801.0,692.1 1453.1,709.2" fill="#6a2222" stroke="#6a2222" stroke-width="0.8" stroke-linejoin="round"/><polygon points="1454.6,604.5 1789.5,547.3 1793.3,553.9 1796.8,560.6 1800.1,567.4 1803.0,574.2 1805.6,581.1 1808.0,588.1" fill="#b84a48" stroke="#b84a48" stroke-width="0.6" stroke-linejoin="round"/></g>
<g><polygon points="1455.4,623.7 1807.7,715.8 1800.1,824.1 1454.0,729.0" fill="#4c6026" stroke="#4c6026" stroke-width="0.8" stroke-linejoin="round"/><linearGradient id="g8_12" gradientUnits="userSpaceOnUse" x1="1800" y1="0" x2="1817" y2="0"><stop offset="0" stop-color="#4b5c20"/><stop offset="1" stop-color="#3c4919"/></linearGradient><polygon points="1816.9,683.7 1815.6,690.1 1814.0,696.6 1812.2,703.0 1810.1,709.4 1807.7,715.8 1800.1,824.1 1802.5,817.6 1804.6,811.0 1806.4,804.3 1808.0,797.7 1809.3,791.0" fill="url(#g8_12)" stroke="url(#g8_12)" stroke-width="0.8" stroke-linejoin="round"/><polygon points="1455.4,623.7 1811.9,606.9 1813.7,613.2 1815.2,619.5 1816.5,625.8 1817.6,632.1 1818.4,638.5 1819.0,644.9 1819.3,651.4 1819.3,657.8 1819.1,664.3 1818.6,670.7 1817.9,677.2 1816.9,683.7 1815.6,690.1 1814.0,696.6 1812.2,703.0 1810.1,709.4 1807.7,715.8" fill="#8fb058" stroke="#8fb058" stroke-width="0.6" stroke-linejoin="round"/></g>
<g><polygon points="1274.0,629.3 969.4,793.6 976.5,904.1 1275.4,734.9" fill="#5a4a68" stroke="#5a4a68" stroke-width="0.8" stroke-linejoin="round"/><linearGradient id="g15_0" gradientUnits="userSpaceOnUse" x1="911" y1="0" x2="976" y2="0"><stop offset="0" stop-color="#9581b5"/><stop offset="1" stop-color="#766790"/></linearGradient><polygon points="969.4,793.6 963.9,788.0 958.7,782.4 953.7,776.6 949.0,770.8 944.6,764.9 940.4,758.9 936.4,752.8 932.8,746.7 929.4,740.6 926.2,734.4 923.4,728.1 920.8,721.8 918.4,715.5 916.4,709.2 914.5,702.8 913.0,696.4 911.7,690.0 910.7,683.6 918.3,791.0 919.3,797.6 920.6,804.2 922.2,810.7 924.0,817.3 926.1,823.8 928.4,830.3 931.0,836.8 933.8,843.2 936.9,849.6 940.3,855.9 943.9,862.2 947.8,868.4 952.0,874.6 956.4,880.7 961.0,886.6 965.9,892.6 971.1,898.4 976.5,904.1" fill="url(#g15_0)" stroke="url(#g15_0)" stroke-width="0.8" stroke-linejoin="round"/><polygon points="1274.0,629.3 969.4,793.6 963.9,788.0 958.7,782.4 953.7,776.6 949.0,770.8 944.6,764.9 940.4,758.9 936.4,752.8 932.8,746.7 929.4,740.6 926.2,734.4 923.4,728.1 920.8,721.8 918.4,715.5 916.4,709.2 914.5,702.8 913.0,696.4 911.7,690.0 910.7,683.6 909.9,677.2 909.4,670.8 909.2,664.5 909.2,658.1 909.5,651.7 910.0,645.4 910.7,639.0 911.7,632.7 913.0,626.5 914.5,620.3 916.2,614.1 918.1,607.9 920.3,601.8 922.7,595.8 925.4,589.8 928.2,583.9" fill="#9a88b8" stroke="#9a88b8" stroke-width="0.6" stroke-linejoin="round"/></g>
<g><polygon points="1443.4,646.7 1741.4,821.6 1734.5,932.8 1442.1,752.8" fill="#35223f" stroke="#35223f" stroke-width="0.8" stroke-linejoin="round"/><linearGradient id="g9_0" gradientUnits="userSpaceOnUse" x1="1734" y1="0" x2="1799" y2="0"><stop offset="0" stop-color="#2e213d"/><stop offset="1" stop-color="#241a31"/></linearGradient><polygon points="1798.9,740.8 1796.2,747.4 1793.2,754.0 1789.9,760.4 1786.3,766.9 1782.4,773.3 1778.2,779.6 1773.8,785.9 1769.1,792.0 1764.1,798.1 1758.8,804.1 1753.3,810.1 1747.5,815.9 1741.4,821.6 1734.5,932.8 1740.5,926.9 1746.2,921.0 1751.7,914.9 1756.9,908.7 1761.8,902.5 1766.5,896.2 1770.8,889.7 1775.0,883.2 1778.8,876.7 1782.4,870.1 1785.6,863.4 1788.6,856.7 1791.4,849.9" fill="url(#g9_0)" stroke="url(#g9_0)" stroke-width="0.8" stroke-linejoin="round"/><polygon points="1443.4,646.7 1798.9,740.8 1796.2,747.4 1793.2,754.0 1789.9,760.4 1786.3,766.9 1782.4,773.3 1778.2,779.6 1773.8,785.9 1769.1,792.0 1764.1,798.1 1758.8,804.1 1753.3,810.1 1747.5,815.9 1741.4,821.6" fill="#7a5fa0" stroke="#7a5fa0" stroke-width="0.6" stroke-linejoin="round"/></g>
<g><polygon points="1425.6,661.0 1655.3,885.6 1649.8,998.3 1424.6,767.6" fill="#1f4a58" stroke="#1f4a58" stroke-width="0.8" stroke-linejoin="round"/><linearGradient id="g10_0" gradientUnits="userSpaceOnUse" x1="1650" y1="0" x2="1724" y2="0"><stop offset="0" stop-color="#214f5b"/><stop offset="1" stop-color="#1a3f49"/></linearGradient><polygon points="1724.2,838.1 1717.6,844.0 1710.7,849.7 1703.6,855.3 1696.2,860.7 1688.5,866.0 1680.6,871.1 1672.4,876.1 1664.0,880.9 1655.3,885.6 1649.8,998.3 1658.3,993.5 1666.6,988.6 1674.6,983.5 1682.4,978.2 1690.0,972.8 1697.3,967.3 1704.3,961.6 1711.1,955.7 1717.6,949.8" fill="url(#g10_0)" stroke="url(#g10_0)" stroke-width="0.8" stroke-linejoin="round"/><polygon points="1425.6,661.0 1724.2,838.1 1717.6,844.0 1710.7,849.7 1703.6,855.3 1696.2,860.7 1688.5,866.0 1680.6,871.1 1672.4,876.1 1664.0,880.9 1655.3,885.6" fill="#48a0bc" stroke="#48a0bc" stroke-width="0.6" stroke-linejoin="round"/></g>
<g><polygon points="1308.4,664.3 1150.0,918.6 1154.1,1031.9 1309.4,771.0" fill="#88a068" stroke="#88a068" stroke-width="0.8" stroke-linejoin="round"/><linearGradient id="g14_0" gradientUnits="userSpaceOnUse" x1="1001" y1="0" x2="1154" y2="0"><stop offset="0" stop-color="#9bb570"/><stop offset="1" stop-color="#7b9059"/></linearGradient><polygon points="1150.0,918.6 1140.0,915.3 1130.1,911.9 1120.4,908.3 1110.9,904.5 1101.6,900.5 1092.5,896.3 1083.6,892.0 1074.9,887.5 1066.4,882.8 1058.2,877.9 1050.2,872.9 1042.4,867.7 1034.9,862.4 1027.7,857.0 1020.7,851.4 1014.0,845.7 1007.5,839.9 1001.3,834.0 1008.0,945.5 1014.1,951.5 1020.4,957.5 1027.1,963.3 1033.9,969.0 1041.1,974.6 1048.5,980.0 1056.1,985.3 1063.9,990.4 1072.0,995.4 1080.3,1000.2 1088.9,1004.8 1097.6,1009.2 1106.6,1013.5 1115.7,1017.6 1125.1,1021.5 1134.6,1025.2 1144.3,1028.6 1154.1,1031.9" fill="url(#g14_0)" stroke="url(#g14_0)" stroke-width="0.8" stroke-linejoin="round"/><polygon points="1308.4,664.3 1150.0,918.6 1140.0,915.3 1130.1,911.9 1120.4,908.3 1110.9,904.5 1101.6,900.5 1092.5,896.3 1083.6,892.0 1074.9,887.5 1066.4,882.8 1058.2,877.9 1050.2,872.9 1042.4,867.7 1034.9,862.4 1027.7,857.0 1020.7,851.4 1014.0,845.7 1007.5,839.9 1001.3,834.0" fill="#a8c480" stroke="#a8c480" stroke-width="0.6" stroke-linejoin="round"/></g>
<g><polygon points="1406.3,669.7 1548.0,929.8 1544.5,1043.4 1405.6,776.6" fill="#633c1e" stroke="#633c1e" stroke-width="0.8" stroke-linejoin="round"/><linearGradient id="g11_0" gradientUnits="userSpaceOnUse" x1="1544" y1="0" x2="1635" y2="0"><stop offset="0" stop-color="#693e1c"/><stop offset="1" stop-color="#543116"/></linearGradient><polygon points="1635.1,896.1 1626.2,900.6 1617.1,905.0 1607.8,909.1 1598.3,913.0 1588.6,916.8 1578.7,920.3 1568.6,923.7 1558.4,926.8 1548.0,929.8 1544.5,1043.4 1554.7,1040.4 1564.7,1037.2 1574.6,1033.7 1584.3,1030.1 1593.8,1026.3 1603.1,1022.3 1612.3,1018.0 1621.2,1013.6 1630.0,1009.1" fill="url(#g11_0)" stroke="url(#g11_0)" stroke-width="0.8" stroke-linejoin="round"/><polygon points="1406.3,669.7 1635.1,896.1 1626.2,900.6 1617.1,905.0 1607.8,909.1 1598.3,913.0 1588.6,916.8 1578.7,920.3 1568.6,923.7 1558.4,926.8 1548.0,929.8" fill="#e89040" stroke="#e89040" stroke-width="0.6" stroke-linejoin="round"/></g>
<g><polygon points="1385.2,674.9 1433.9,952.1 1432.5,1066.1 1384.8,781.9" fill="#33415c" stroke="#33415c" stroke-width="0.8" stroke-linejoin="round"/><linearGradient id="g12_0" gradientUnits="userSpaceOnUse" x1="1433" y1="0" x2="1525" y2="0"><stop offset="0" stop-color="#424f6e"/><stop offset="1" stop-color="#353f57"/></linearGradient><polygon points="1524.9,936.2 1513.9,939.0 1502.8,941.6 1491.6,943.9 1480.2,946.1 1468.8,947.9 1457.2,949.6 1445.6,950.9 1433.9,952.1 1432.5,1066.1 1444.0,1064.9 1455.4,1063.5 1466.7,1061.9 1477.9,1060.0 1489.1,1057.8 1500.1,1055.4 1511.0,1052.7 1521.7,1049.9" fill="url(#g12_0)" stroke="url(#g12_0)" stroke-width="0.8" stroke-linejoin="round"/><polygon points="1385.2,674.9 1524.9,936.2 1513.9,939.0 1502.8,941.6 1491.6,943.9 1480.2,946.1 1468.8,947.9 1457.2,949.6 1445.6,950.9 1433.9,952.1" fill="#7e9ecf" stroke="#7e9ecf" stroke-width="0.6" stroke-linejoin="round"/></g>
<g><linearGradient id="g13_0" gradientUnits="userSpaceOnUse" x1="1197" y1="0" x2="1396" y2="0"><stop offset="0" stop-color="#895252"/><stop offset="1" stop-color="#6d4141"/></linearGradient><polygon points="1395.8,953.4 1384.5,954.2 1373.1,954.8 1361.8,955.2 1350.4,955.3 1339.1,955.2 1327.7,954.9 1316.4,954.3 1305.1,953.5 1293.8,952.5 1282.6,951.2 1271.5,949.7 1260.5,948.0 1249.5,946.0 1238.7,943.8 1228.0,941.4 1217.4,938.8 1206.9,935.9 1196.6,932.9 1199.8,1046.5 1210.0,1049.6 1220.2,1052.5 1230.6,1055.2 1241.2,1057.7 1251.8,1059.9 1262.5,1061.9 1273.3,1063.6 1284.2,1065.2 1295.2,1066.5 1306.2,1067.5 1317.3,1068.4 1328.4,1068.9 1339.5,1069.3 1350.7,1069.4 1361.8,1069.3 1373.0,1068.9 1384.1,1068.3 1395.1,1067.4" fill="url(#g13_0)" stroke="url(#g13_0)" stroke-width="0.8" stroke-linejoin="round"/><polygon points="1351.2,675.9 1395.8,953.4 1384.5,954.2 1373.1,954.8 1361.8,955.2 1350.4,955.3 1339.1,955.2 1327.7,954.9 1316.4,954.3 1305.1,953.5 1293.8,952.5 1282.6,951.2 1271.5,949.7 1260.5,948.0 1249.5,946.0 1238.7,943.8 1228.0,941.4 1217.4,938.8 1206.9,935.9 1196.6,932.9" fill="#c87a7a" stroke="#c87a7a" stroke-width="0.6" stroke-linejoin="round"/></g>
<path d="M1156.6,302 L1164,305.8 L1204,369.5" fill="none" stroke="#7a7a7a" stroke-width="1.7"/>
<path d="M1462.2,296.7 L1469.6,297.8 L1475.5,357.9" fill="none" stroke="#7a7a7a" stroke-width="1.7"/>
<path d="M1589,212.8 L1583.8,215.5 L1581.7,388.7" fill="none" stroke="#7a7a7a" stroke-width="1.7"/>
<path d="M1629,327 L1622.6,329.7 L1604,395" fill="none" stroke="#7a7a7a" stroke-width="1.7"/>
<path d="M1760.8,206.4 L1755.5,210.7 L1628,404" fill="none" stroke="#7a7a7a" stroke-width="1.7"/>
<path d="M1711.4,316.4 L1705,319.6 L1661,419" fill="none" stroke="#7a7a7a" stroke-width="1.7"/>
<path d="M1832.5,283.5 L1825.6,287.7 L1706.6,453.5" fill="none" stroke="#7a7a7a" stroke-width="1.7"/>
<path d="M1775,481.7 L1767,485.4 L1760.8,501.3" fill="none" stroke="#7a7a7a" stroke-width="1.7"/>
<path d="M1842,445.5 L1834,448.2 L1803.3,565" fill="none" stroke="#7a7a7a" stroke-width="1.7"/>
<path d="M1688.3,977.7 L1708.6,1013.3 L1716,1013.3" fill="none" stroke="#7a7a7a" stroke-width="1.7"/>
<path d="M1591.8,1030.2 L1617.2,1079.3 L1623,1079.3" fill="none" stroke="#7a7a7a" stroke-width="1.7"/>
<path d="M1479.5,1061 L1488.7,1123.5 L1495,1123.5" fill="none" stroke="#7a7a7a" stroke-width="1.7"/>
<text x="1499.4" y="188.2" font-size="20.0" fill="#333333" stroke="#333333" stroke-width="0.65" textLength="201.3" lengthAdjust="spacingAndGlyphs" >Glycosphingolipid biosynthesis</text>
<text x="1589.7" y="215.8" font-size="20.0" fill="#333333" stroke="#333333" stroke-width="0.65" textLength="20.7" lengthAdjust="spacingAndGlyphs" >0%</text>
<text x="1767.7" y="182.8" font-size="20.0" fill="#333333" stroke="#333333" stroke-width="0.65" textLength="64.8" lengthAdjust="spacingAndGlyphs" >Fatty acid</text>
<text x="1760.8" y="210.6" font-size="20.0" fill="#333333" stroke="#333333" stroke-width="0.65" textLength="78.6" lengthAdjust="spacingAndGlyphs" >degradation</text>
<text x="1791.6" y="237.1" font-size="20.0" fill="#333333" stroke="#333333" stroke-width="0.65" textLength="18.1" lengthAdjust="spacingAndGlyphs" >1%</text>
<text x="1846.9" y="231.8" font-size="20.0" fill="#333333" stroke="#333333" stroke-width="0.65" textLength="45.7" lengthAdjust="spacingAndGlyphs" >Inositol</text>
<text x="1836.2" y="260.0" font-size="20.0" fill="#333333" stroke="#333333" stroke-width="0.65" textLength="68.1" lengthAdjust="spacingAndGlyphs" >phosphate</text>
<text x="1832.5" y="286.5" font-size="20.0" fill="#333333" stroke="#333333" stroke-width="0.65" textLength="75.5" lengthAdjust="spacingAndGlyphs" >metabolism</text>
<text x="1860.7" y="314.2" font-size="20.0" fill="#333333" stroke="#333333" stroke-width="0.65" textLength="19.6" lengthAdjust="spacingAndGlyphs" >2%</text>
<text x="1372.9" y="243.5" font-size="20.0" fill="#333333" stroke="#333333" stroke-width="0.65" textLength="144.5" lengthAdjust="spacingAndGlyphs" >Ubiquinone and other</text>
<text x="1341.0" y="270.6" font-size="20.0" fill="#333333" stroke="#333333" stroke-width="0.65" textLength="209.4" lengthAdjust="spacingAndGlyphs" >terpenoid-quinone biosynthesis</text>
<text x="1436.7" y="298.2" font-size="20.0" fill="#333333" stroke="#333333" stroke-width="0.65" textLength="18.6" lengthAdjust="spacingAndGlyphs" >9%</text>
<text x="1609.4" y="274.8" font-size="20.0" fill="#333333" stroke="#333333" stroke-width="0.65" textLength="60.0" lengthAdjust="spacingAndGlyphs" >Thiamine</text>
<text x="1601.4" y="303.0" font-size="20.0" fill="#333333" stroke="#333333" stroke-width="0.65" textLength="76.0" lengthAdjust="spacingAndGlyphs" >metabolism</text>
<text x="1629.5" y="330.1" font-size="20.0" fill="#333333" stroke="#333333" stroke-width="0.65" textLength="19.7" lengthAdjust="spacingAndGlyphs" >2%</text>
<text x="1716.7" y="291.8" font-size="20.0" fill="#333333" stroke="#333333" stroke-width="0.65" textLength="66.9" lengthAdjust="spacingAndGlyphs" >Butanoate</text>
<text x="1711.4" y="320.0" font-size="20.0" fill="#333333" stroke="#333333" stroke-width="0.65" textLength="77.0" lengthAdjust="spacingAndGlyphs" >metabolism</text>
<text x="1741.0" y="347.1" font-size="20.0" fill="#333333" stroke="#333333" stroke-width="0.65" textLength="18.7" lengthAdjust="spacingAndGlyphs" >3%</text>
<text x="968.0" y="307.3" font-size="20.0" fill="#333333" stroke="#333333" stroke-width="0.65" textLength="187.0" lengthAdjust="spacingAndGlyphs" >Brassinosteroid biosynthesis</text>
<text x="1053.0" y="335.4" font-size="20.0" fill="#333333" stroke="#333333" stroke-width="0.65" textLength="18.0" lengthAdjust="spacingAndGlyphs" >9%</text>
<text x="1249.0" y="307.3" font-size="20.0" fill="#333333" stroke="#333333" stroke-width="0.65" textLength="156.8" lengthAdjust="spacingAndGlyphs" >Propanoate metabolism</text>
<text x="1318.7" y="335.4" font-size="20.0" fill="#333333" stroke="#333333" stroke-width="0.65" textLength="18.6" lengthAdjust="spacingAndGlyphs" >2%</text>
<text x="1793.7" y="364.7" font-size="20.0" fill="#333333" stroke="#333333" stroke-width="0.65" textLength="115.9" lengthAdjust="spacingAndGlyphs" >Carbon fixation in</text>
<text x="1803.3" y="392.8" font-size="20.0" fill="#333333" stroke="#333333" stroke-width="0.65" textLength="96.7" lengthAdjust="spacingAndGlyphs" >photosynthetic</text>
<text x="1817.6" y="420.4" font-size="20.0" fill="#333333" stroke="#333333" stroke-width="0.65" textLength="67.0" lengthAdjust="spacingAndGlyphs" >organisms</text>
<text x="1842.0" y="448.1" font-size="20.0" fill="#333333" stroke="#333333" stroke-width="0.65" textLength="18.7" lengthAdjust="spacingAndGlyphs" >3%</text>
<text x="1783.6" y="456.0" font-size="20.0" fill="#333333" stroke="#333333" stroke-width="0.65" textLength="48.9" lengthAdjust="spacingAndGlyphs" >Pentose</text>
<text x="1775.0" y="485.3" font-size="20.0" fill="#333333" stroke="#333333" stroke-width="0.65" textLength="68.0" lengthAdjust="spacingAndGlyphs" >phosphate</text>
<text x="1780.4" y="512.4" font-size="20.0" fill="#333333" stroke="#333333" stroke-width="0.65" textLength="54.6" lengthAdjust="spacingAndGlyphs" >pathway</text>
<text x="1799.0" y="540.0" font-size="20.0" fill="#333333" stroke="#333333" stroke-width="0.65" textLength="19.0" lengthAdjust="spacingAndGlyphs" >5%</text>
<text x="983.4" y="504.4" font-size="20.0" fill="#27404c" stroke="#27404c" stroke-width="0.65" textLength="158.4" lengthAdjust="spacingAndGlyphs" >Carotenoid biosynthesis</text>
<text x="1050.4" y="533.1" font-size="20.0" fill="#27404c" stroke="#27404c" stroke-width="0.65" textLength="26.0" lengthAdjust="spacingAndGlyphs" >11%</text>
<text x="920.2" y="673.8" font-size="20.0" fill="#3b2d4b" stroke="#3b2d4b" stroke-width="0.65" textLength="132.8" lengthAdjust="spacingAndGlyphs" >Steroid biosynthesis</text>
<text x="974.4" y="702.6" font-size="20.0" fill="#3b2d4b" stroke="#3b2d4b" stroke-width="0.65" textLength="26.6" lengthAdjust="spacingAndGlyphs" >14%</text>
<text x="1816.6" y="754.7" font-size="20.0" fill="#333333" stroke="#333333" stroke-width="0.65" textLength="83.4" lengthAdjust="spacingAndGlyphs" >Cysteine and</text>
<text x="1820.8" y="782.3" font-size="20.0" fill="#333333" stroke="#333333" stroke-width="0.65" textLength="74.4" lengthAdjust="spacingAndGlyphs" >methionine</text>
<text x="1820.3" y="808.8" font-size="20.0" fill="#333333" stroke="#333333" stroke-width="0.65" textLength="76.0" lengthAdjust="spacingAndGlyphs" >metabolism</text>
<text x="1848.5" y="836.5" font-size="20.0" fill="#333333" stroke="#333333" stroke-width="0.65" textLength="19.6" lengthAdjust="spacingAndGlyphs" >7%</text>
<text x="1775.0" y="916.2" font-size="20.0" fill="#333333" stroke="#333333" stroke-width="0.65" textLength="125.0" lengthAdjust="spacingAndGlyphs" >Glycine, serine and</text>
<text x="1763.4" y="944.4" font-size="20.0" fill="#333333" stroke="#333333" stroke-width="0.65" textLength="146.2" lengthAdjust="spacingAndGlyphs" >threonine metabolism</text>
<text x="1827.2" y="970.9" font-size="20.0" fill="#333333" stroke="#333333" stroke-width="0.65" textLength="19.7" lengthAdjust="spacingAndGlyphs" >6%</text>
<text x="1718.3" y="1014.5" font-size="20.0" fill="#333333" stroke="#333333" stroke-width="0.65" textLength="162.0" lengthAdjust="spacingAndGlyphs" >Pentose and glucuronate</text>
<text x="1746.0" y="1042.7" font-size="20.0" fill="#333333" stroke="#333333" stroke-width="0.65" textLength="107.8" lengthAdjust="spacingAndGlyphs" >interconversions</text>
<text x="1790.0" y="1070.3" font-size="20.0" fill="#333333" stroke="#333333" stroke-width="0.65" textLength="19.7" lengthAdjust="spacingAndGlyphs" >4%</text>
<text x="1643.9" y="1051.7" font-size="20.0" fill="#333333" stroke="#333333" stroke-width="0.65" textLength="94.1" lengthAdjust="spacingAndGlyphs" >Ascorbate and</text>
<text x="1625.3" y="1079.8" font-size="20.0" fill="#333333" stroke="#333333" stroke-width="0.65" textLength="132.8" lengthAdjust="spacingAndGlyphs" >aldarate metabolism</text>
<text x="1682.1" y="1106.4" font-size="20.0" fill="#333333" stroke="#333333" stroke-width="0.65" textLength="19.2" lengthAdjust="spacingAndGlyphs" >4%</text>
<text x="1496.2" y="1122.4" font-size="20.0" fill="#333333" stroke="#333333" stroke-width="0.65" textLength="98.8" lengthAdjust="spacingAndGlyphs" >Biosynthesis of</text>
<text x="1470.1" y="1150.0" font-size="20.0" fill="#333333" stroke="#333333" stroke-width="0.65" textLength="151.5" lengthAdjust="spacingAndGlyphs" >unsaturated fatty acids</text>
<text x="1536.6" y="1177.1" font-size="20.0" fill="#333333" stroke="#333333" stroke-width="0.65" textLength="19.6" lengthAdjust="spacingAndGlyphs" >4%</text>
<text x="1213.5" y="1094.7" font-size="20.0" fill="#333333" stroke="#333333" stroke-width="0.65" textLength="134.4" lengthAdjust="spacingAndGlyphs" >Sesquiterpenoid and</text>
<text x="1197.6" y="1123.4" font-size="20.0" fill="#333333" stroke="#333333" stroke-width="0.65" textLength="165.7" lengthAdjust="spacingAndGlyphs" >triterpenoid biosynthesis</text>
<text x="1272.0" y="1150.5" font-size="20.0" fill="#333333" stroke="#333333" stroke-width="0.65" textLength="19.6" lengthAdjust="spacingAndGlyphs" >8%</text>
<text x="1040.8" y="835.4" font-size="20.0" fill="#3a4a2a" stroke="#3a4a2a" stroke-width="0.65" textLength="148.8" lengthAdjust="spacingAndGlyphs" >Flavonoid biosynthesis</text>
<text x="1105.6" y="863.6" font-size="20.0" fill="#3a4a2a" stroke="#3a4a2a" stroke-width="0.65" textLength="18.6" lengthAdjust="spacingAndGlyphs" >8%</text>
<text x="997.0" y="218.0" font-size="31.0" fill="#000" stroke="#000" stroke-width="0.65" font-weight="bold" >C</text>
</g>
</svg>
</body></html>
